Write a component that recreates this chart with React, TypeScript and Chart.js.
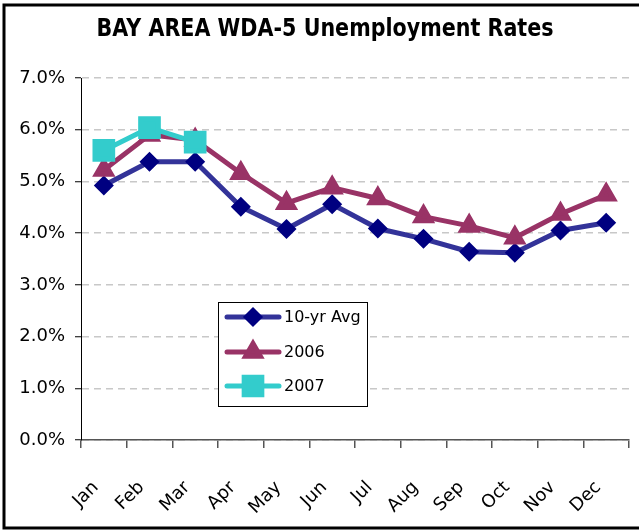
import React, { useEffect, useRef } from "react";
import { Chart, registerables } from "chart.js";

Chart.register(...registerables);

const months = ["Jan", "Feb", "Mar", "Apr", "May", "Jun", "Jul", "Aug", "Sep", "Oct", "Nov", "Dec"];
const avg10 = [4.92, 5.38, 5.38, 4.51, 4.08, 4.56, 4.09, 3.89, 3.64, 3.62, 4.05, 4.2];
const y2006 = [5.22, 5.9, 5.8, 5.16, 4.58, 4.88, 4.67, 4.32, 4.14, 3.91, 4.37, 4.74];
const y2007 = [5.6, 6.04, 5.76, null, null, null, null, null, null, null, null, null];
const titleText = "BAY AREA WDA-5 Unemployment Rates";

const FONT = "'DejaVu Sans', sans-serif";

const decorPlugin = {
  id: "decor",
  beforeDraw(chart: any) {
    const ctx = chart.ctx;
    ctx.save();
    ctx.fillStyle = "#fff";
    ctx.fillRect(0, 0, chart.width, chart.height);
    ctx.restore();
  },
  afterDraw(chart: any) {
    const ctx = chart.ctx;
    ctx.save();
    // outer frame
    ctx.strokeStyle = "#000";
    ctx.lineWidth = 3;
    ctx.beginPath();
    ctx.moveTo(641, 5);
    ctx.lineTo(4, 5);
    ctx.lineTo(4, 528);
    ctx.lineTo(641, 528);
    ctx.stroke();
    // title
    ctx.fillStyle = "#000";
    ctx.font = "bold 25px " + FONT;
    ctx.textAlign = "center";
    ctx.textBaseline = "alphabetic";
    const w = ctx.measureText(titleText).width;
    const sx = Math.min(1, 457 / w);
    ctx.save();
    ctx.translate(325, 36);
    ctx.scale(sx, 1);
    ctx.fillText(titleText, 0, 0);
    ctx.restore();
    // legend
    const bx = 218, by = 302, bw = 149, bh = 104;
    ctx.fillStyle = "#fff";
    ctx.fillRect(bx, by, bw, bh);
    ctx.strokeStyle = "#000";
    ctx.lineWidth = 1;
    ctx.strokeRect(bx + 0.5, by + 0.5, bw, bh);
    const rows = [317, 352, 386];
    const sorted = chart.data.datasets.slice().sort((a: any, b: any) => b.order - a.order);
    sorted.forEach((ds: any, i: number) => {
      const y = rows[i];
      ctx.strokeStyle = ds.borderColor;
      ctx.lineWidth = 5;
      ctx.lineCap = "round";
      ctx.beginPath();
      ctx.moveTo(227, y);
      ctx.lineTo(279, y);
      ctx.stroke();
      const meta = chart.getDatasetMeta(chart.data.datasets.indexOf(ds));
      const el = meta.data.find((p: any) => !p.skip);
      if (el) {
        const ox = el.x, oy = el.y;
        el.x = 253; el.y = y;
        el.draw(ctx, { left: 0, top: 0, right: chart.width, bottom: chart.height });
        el.x = ox; el.y = oy;
      }
      ctx.fillStyle = "#000";
      ctx.font = "16px " + FONT;
      ctx.textAlign = "left";
      ctx.textBaseline = "middle";
      ctx.fillText(ds.label, 284, y + 1);
    });
    ctx.restore();
  },
};

export default function App() {
  const ref = useRef<HTMLCanvasElement>(null);
  useEffect(() => {
    document.body.style.margin = "0";
    const chart = new Chart(ref.current!, {
      type: "line",
      data: {
        labels: months,
        datasets: [
          {
            label: "10-yr Avg",
            data: avg10,
            order: 2,
            borderColor: "#333399",
            backgroundColor: "#000080",
            pointBackgroundColor: "#000080",
            pointBorderColor: "#000080",
            pointStyle: "rectRot",
            pointRadius: 6.5,
            borderWidth: 5,
            tension: 0,
          },
          {
            label: "2006",
            data: y2006,
            order: 1,
            borderColor: "#993366",
            backgroundColor: "#993366",
            pointBackgroundColor: "#993366",
            pointBorderColor: "#993366",
            pointStyle: "triangle",
            pointRadius: 8.5,
            borderWidth: 5,
            tension: 0,
          },
          {
            label: "2007",
            data: y2007,
            order: 0,
            borderColor: "#33CCCC",
            backgroundColor: "#33CCCC",
            pointBackgroundColor: "#33CCCC",
            pointBorderColor: "#33CCCC",
            pointStyle: "rect",
            pointRadius: 12.5,
            borderWidth: 5,
            tension: 0,
          },
        ],
      },
      options: {
        animation: false,
        responsive: false,
        devicePixelRatio: 1,
        layout: { autoPadding: false, padding: { left: 0, right: 10, top: 78, bottom: 0 } },
        plugins: {
          legend: { display: false },
          title: { display: false },
          tooltip: { enabled: false },
        },
        elements: { line: { borderCapStyle: "round", borderJoinStyle: "round" } },
        scales: {
          x: {
            offset: true,
            grid: { offset: true, drawOnChartArea: false, tickLength: 8, tickColor: "#555", lineWidth: 1.5 },
            border: { color: "#555", width: 1.5 },
            ticks: { minRotation: 45, maxRotation: 45, padding: 29, labelOffset: -8, color: "#000", font: { family: FONT, size: 18 } },
            afterFit: (s: any) => { s.height = 91; s.paddingLeft = 0; s.paddingRight = 0; },
          },
          y: {
            min: 0,
            max: 7,
            grid: { color: "#c8c8c8", lineWidth: 1.5, tickLength: 6, tickColor: "#000", tickBorderDash: [], tickWidth: 1 },
            border: { color: "#000", width: 1, dash: [7, 5] },
            ticks: { stepSize: 1, padding: 10, color: "#000", font: { family: FONT, size: 18 }, callback: (v: any) => Number(v).toFixed(1) + "%" },
            afterFit: (s: any) => { s.width = 81; },
          },
        },
      },
      plugins: [decorPlugin],
    });
    return () => chart.destroy();
  }, []);
  return (
    <div style={{ width: 639, height: 531 }}>
      <canvas ref={ref} width={639} height={531} />
    </div>
  );
}
